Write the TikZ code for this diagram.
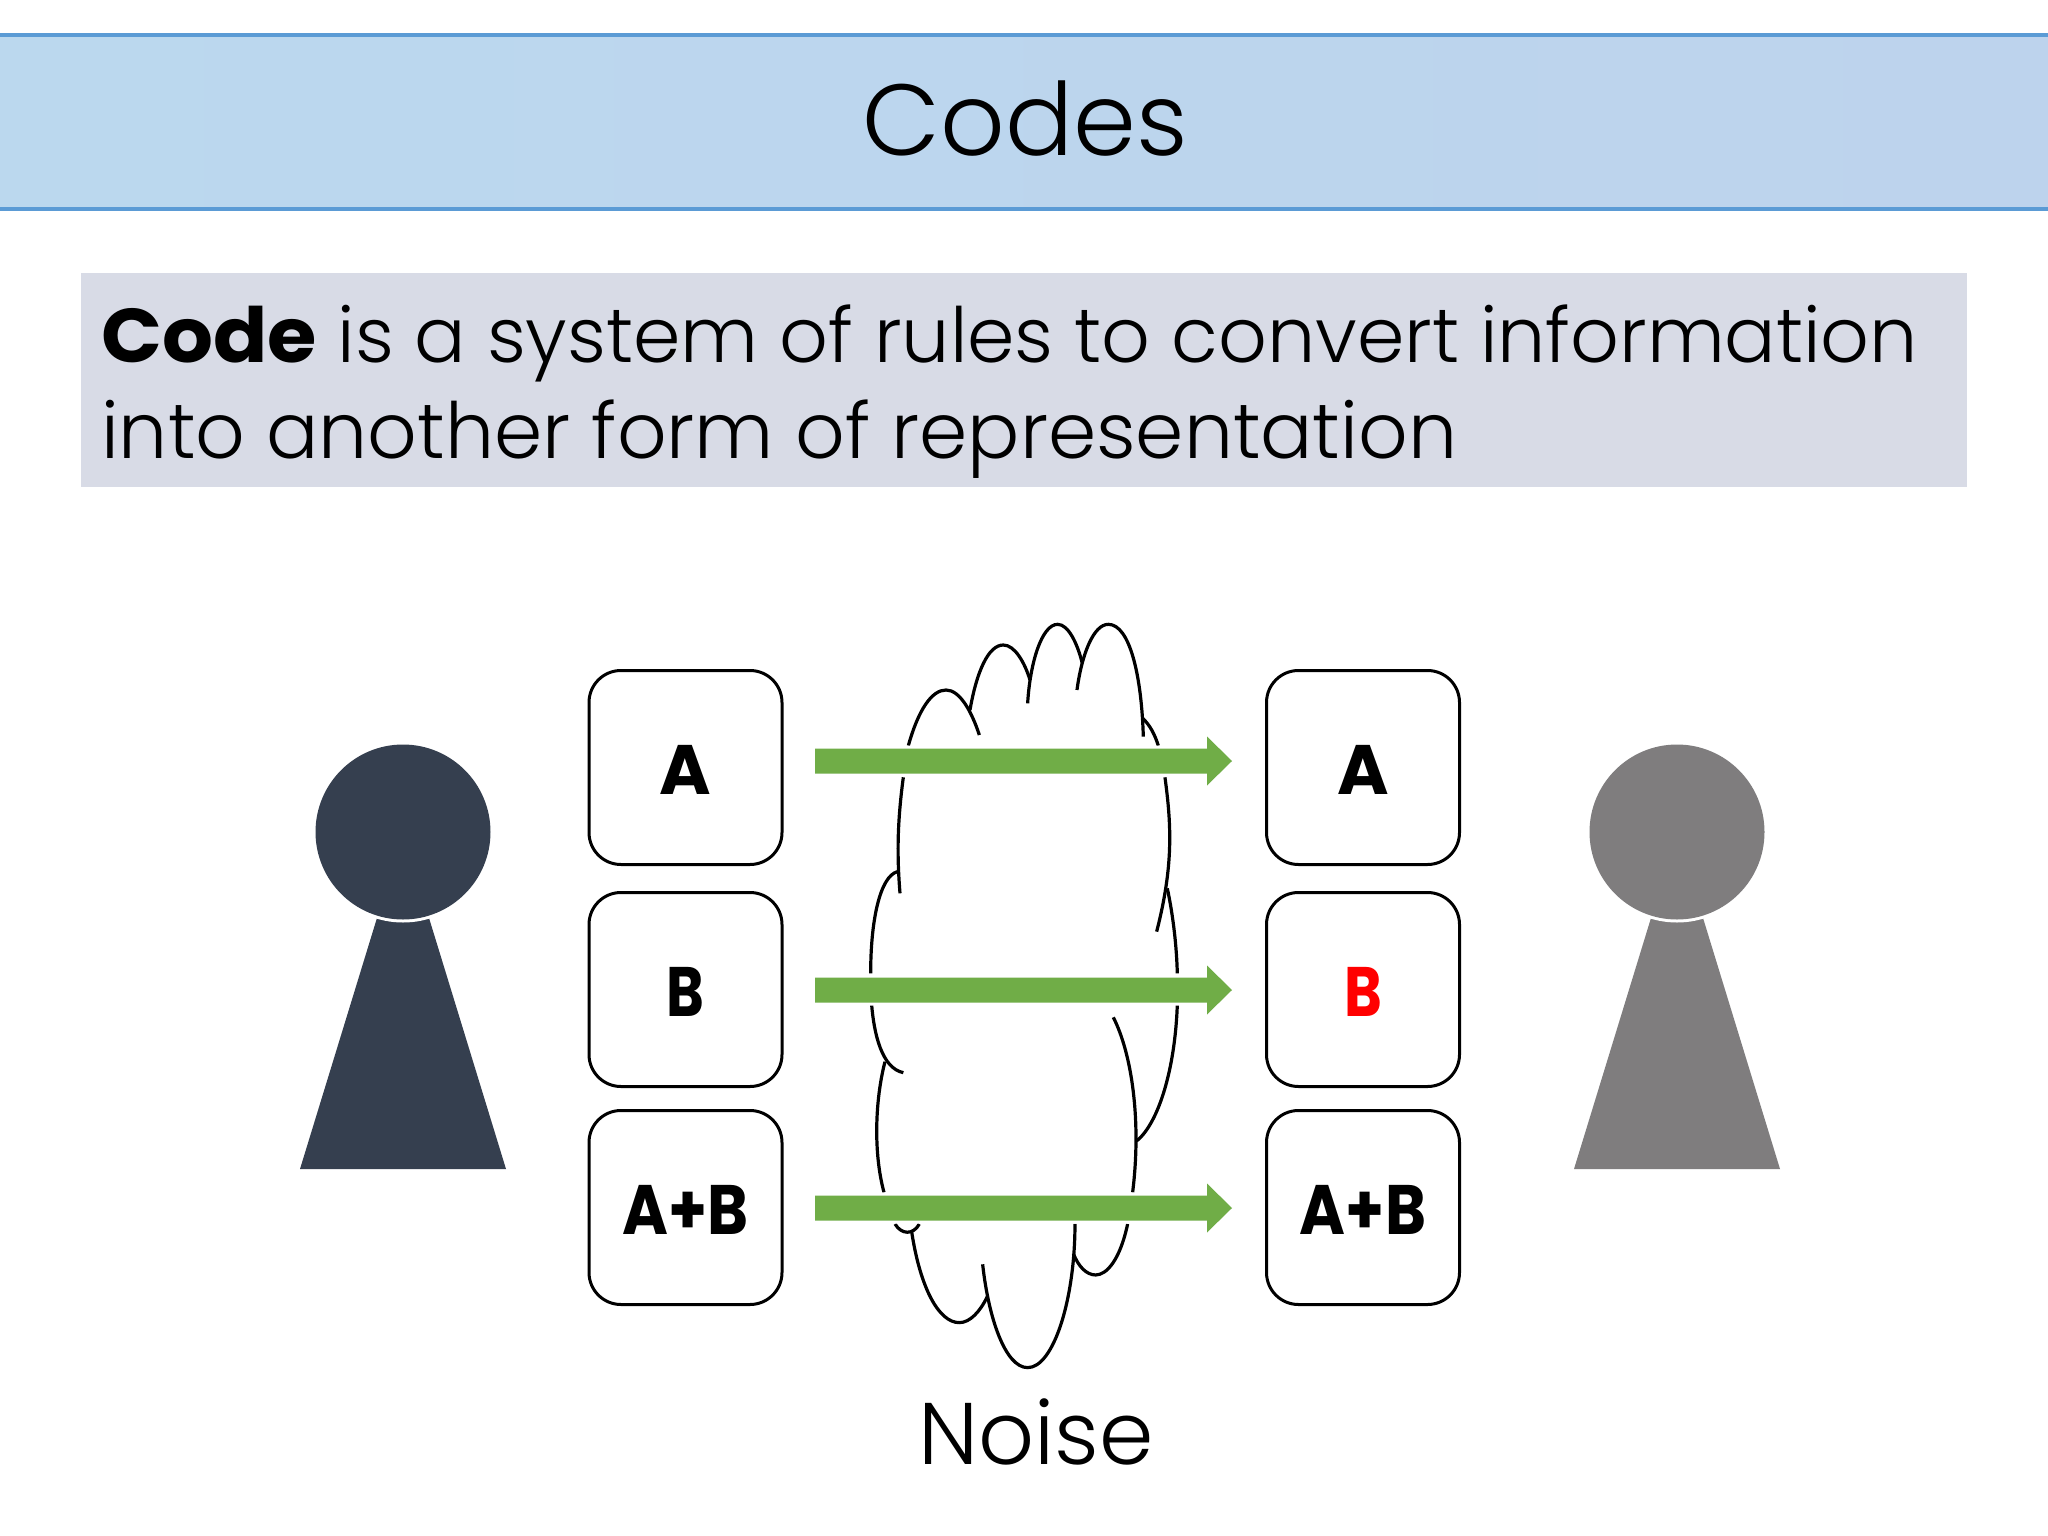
\documentclass[tikz,border=0pt]{standalone}
\usepackage{fontspec}
\setmainfont{Poppins}[UprightFont=* Light,BoldFont=* Bold]
\definecolor{bandL}{HTML}{BBD8EE}
\definecolor{bandR}{HTML}{BDD3ED}
\definecolor{bandline}{HTML}{5B9BD5}
\definecolor{defbox}{HTML}{D8DBE6}
\definecolor{navy}{HTML}{353F4F}
\definecolor{grayp}{HTML}{7F7D7E}
\definecolor{arrowg}{HTML}{70AD47}
\tikzset{
  x=1pt,y=-1pt,
  bigbox/.style={draw=black,line width=3pt,rounded corners=32pt,fill=white,minimum width=193pt,minimum height=194pt,inner sep=0pt,font=\fontsize{70}{70}\selectfont\bfseries},
  cloudline/.style={draw=black,line width=3.2pt},
  greenarrow/.style={fill=arrowg,preaction={draw=white,line width=6pt}},
  bodytext/.style={anchor=base west,inner sep=0pt}
}
\newcommand{\boxlabel}[2]{\smash{\raisebox{-27pt}{\scalebox{#1}[1]{#2}}}}
\newcommand{\pawn}[2]{%
  \fill[#2] (#1-103,1169) -- (#1-25.1,915) -- (#1+25.1,915) -- (#1+103,1169) -- cycle;
  \fill[white] (#1,832) circle[radius=90.5];
  \fill[#2] (#1,832) circle[radius=87.5];
}
\newcommand{\greenarr}[2]{%
  \node[inner sep=0pt,minimum size=0pt] (#2s) at (815,#1) {};
  \node[inner sep=0pt,minimum size=0pt] (#2e) at (1232,#1) {};
  \path[greenarrow] (#2s.center) ++(0,-12.5) -- (1207,#1-12.5) -- (1207,#1-24.5) -- (#2e.center) -- (1207,#1+24.5) -- (1207,#1+12.5) -- (815,#1+12.5) -- cycle;
}
\begin{document}
\begin{tikzpicture}
\useasboundingbox (0,0) rectangle (2048,1536);
\fill[white] (0,0) rectangle (2048,1536);
% title band
\shade[left color=bandL,right color=bandR] (0,35) rectangle (2048,209);
\draw[bandline,line width=3.5pt] (0,35) -- (2048,35);
\draw[bandline,line width=3.5pt] (0,209) -- (2048,209);
\node[inner sep=0pt,anchor=base,font=\fontsize{101}{101}\selectfont] (title) at (1025,156) {Codes};
% definition
\fill[defbox] (81,273) rectangle (1967,487);
\node[bodytext,font=\fontsize{76.2}{76.2}\selectfont] (line1) at (101,362) {\scalebox{1.05}[1]{\textbf{Code}} is a system of rules to convert information};
\node[bodytext,font=\fontsize{77.5}{77.5}\selectfont] (line2) at (101,458) {into another form of representation};
% cloud
\begin{scope}[shift={(840,600)},x=0.3333pt,y=-0.3333pt]
\draw[cloudline] (205,437) .. controls (235,330) and (275,270) .. (318,270) .. controls (360,270) and (395,335) .. (418,405);
\draw[cloudline] (390,330) .. controls (410,215) and (445,135) .. (490,135) .. controls (525,135) and (555,190) .. (570,240);
\draw[cloudline] (563,310) .. controls (570,190) and (605,73) .. (653,73) .. controls (685,73) and (712,130) .. (727,190);
\draw[cloudline] (711,270) .. controls (725,165) and (760,73) .. (805,73) .. controls (870,73) and (905,230) .. (910,410);
\draw[cloudline] (908,355) .. controls (930,375) and (945,405) .. (955,437);
\draw[cloudline] (190,532) .. controls (170,680) and (172,780) .. (180,880);
\draw[cloudline] (975,532) .. controls (995,680) and (1000,800) .. (950,995);
\draw[cloudline] (172,815) .. controls (120,830) and (92,960) .. (92,1120);
\draw[cloudline] (982,865) .. controls (1000,950) and (1010,1040) .. (1012,1120);
\end{scope}
\begin{scope}[shift={(840,980)},x=0.3333pt,y=-0.3333pt]
\draw[cloudline] (95,75) .. controls (102,160) and (125,265) .. (190,278);
\draw[cloudline] (1012,75) .. controls (1005,270) and (955,430) .. (890,483);
\draw[cloudline] (820,112) .. controls (875,220) and (905,420) .. (878,637);
\draw[cloudline] (135,245) .. controls (105,360) and (100,520) .. (132,637);
\draw[cloudline] (165,732) .. controls (185,765) and (220,765) .. (238,732);
\draw[cloudline] (215,755) .. controls (240,920) and (295,1028) .. (358,1028) .. controls (390,1028) and (420,995) .. (442,950);
\draw[cloudline] (428,853) .. controls (445,1010) and (495,1163) .. (563,1163) .. controls (640,1163) and (705,960) .. (705,732);
\draw[cloudline] (863,732) .. controls (840,840) and (800,885) .. (767,885) .. controls (740,885) and (715,860) .. (700,820);
\end{scope}
% arrows
\greenarr{761}{aone}
\greenarr{990}{atwo}
\greenarr{1208}{athree}
% boxes
\node[bigbox] (la) at (685.5,767.5) {\boxlabel{1}{A}};
\node[bigbox] (lb) at (685.5,989.5) {\boxlabel{.82}{B}};
\node[bigbox] (lc) at (685.5,1207.5) {\boxlabel{.89}{A+B}};
\node[bigbox] (ra) at (1363,767.5) {\boxlabel{1}{A}};
\node[bigbox,text=red] (rb) at (1363,989.5) {\boxlabel{.82}{B}};
\node[bigbox] (rc) at (1363,1207.5) {\boxlabel{.89}{A+B}};
% people
\pawn{403}{navy}
\pawn{1677}{grayp}
\node[inner sep=0pt,anchor=base,font=\fontsize{87.5}{87.5}\selectfont] (noise) at (1036,1464) {Noise};
\end{tikzpicture}
\end{document}
